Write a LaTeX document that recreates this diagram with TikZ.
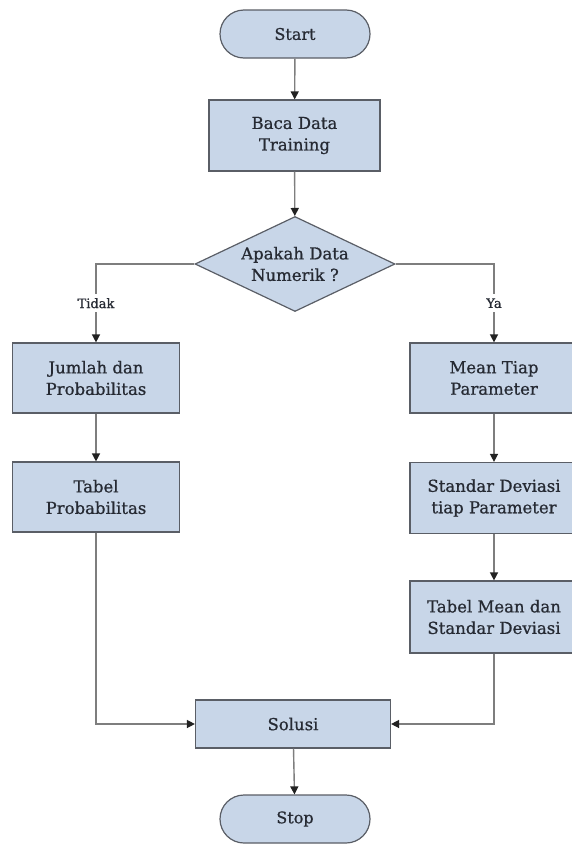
\documentclass[tikz,border=0pt]{standalone}
\usepackage{fontspec}
\setmainfont{DejaVu Serif}[BoldFont=DejaVu Serif, BoldFeatures={FakeBold=0.8}]
\usetikzlibrary{shapes.geometric,arrows.meta}
\definecolor{boxfill}{HTML}{C8D6E8}
\definecolor{boxline}{HTML}{5A5E66}
\definecolor{lineclr}{HTML}{7E7E7E}
\definecolor{tipclr}{HTML}{222222}
\definecolor{txtclr}{HTML}{262A33}
\begin{document}
\begin{tikzpicture}[
    x=1pt, y=-1pt,
    term/.style={rectangle, rounded corners=24pt, draw=boxline, line width=1.2pt, fill=boxfill, minimum width=150pt, minimum height=48pt, font=\fontsize{16}{21}\selectfont\bfseries, text=txtclr},
    proc/.style={rectangle, draw=boxline, line width=1.2pt, fill=boxfill, minimum width=168pt, minimum height=70pt, inner sep=1pt, align=center, font=\fontsize{16.5}{21.5}\selectfont\bfseries, text=txtclr},
    decide/.style={diamond, aspect=2.1, draw=boxline, line width=1.2pt, fill=boxfill, minimum width=200pt, minimum height=95pt, inner sep=0pt, align=center, font=\fontsize{16.5}{21.5}\selectfont\bfseries, text=txtclr},
    flow/.style={draw=lineclr, line width=1.4pt, -{Triangle[length=8pt,width=8pt,color=tipclr,fill=tipclr]}},
    branch/.style={font=\fontsize{13}{15}\selectfont\bfseries, text=txtclr, fill=white, inner sep=4pt}
]
    \useasboundingbox (0,0) rectangle (572,846);

    % Terminals
    \node[term] (start) at (295,34) {Start};
    \node[term] (stop) at (295,819) {Stop};

    % Main column
    \node[proc, minimum width=171pt, minimum height=71pt] (baca) at (294.5,135.5) {Baca Data\\Training};
    \node[decide] (numerik) at (295,264) {Apakah Data\\Numerik ?};
    \node[proc, minimum width=195pt, minimum height=48pt] (solusi) at (293,724) {Solusi};

    % Left branch
    \node[proc, minimum width=167pt] (jumlah) at (96,378) {Jumlah dan\\Probabilitas};
    \node[proc, minimum width=167pt] (tabelprob) at (96,497) {Tabel\\Probabilitas};

    % Right branch
    \node[proc] (mean) at (494,378) {Mean Tiap\\Parameter};
    \node[proc, minimum height=71pt] (stdev) at (494,498) {Standar Deviasi\\tiap Parameter};
    \node[proc, minimum height=72pt] (tabelmean) at (494,617) {Tabel Mean dan\\Standar Deviasi};

    % Connectors
    \draw[flow] (start) -- (baca);
    \draw[flow] (baca) -- (numerik);
    \draw[flow] (numerik.west) -| (jumlah.north) node[branch, pos=0.75] {Tidak};
    \draw[flow] (numerik.east) -| (mean.north) node[branch, pos=0.75] {Ya};
    \draw[flow] (jumlah) -- (tabelprob);
    \draw[flow] (mean) -- (stdev);
    \draw[flow] (stdev) -- (tabelmean);
    \draw[flow] (tabelprob.south) |- (solusi.west);
    \draw[flow] (tabelmean.south) |- (solusi.east);
    \draw[flow] (solusi) -- (stop);

\end{tikzpicture}
\end{document}
